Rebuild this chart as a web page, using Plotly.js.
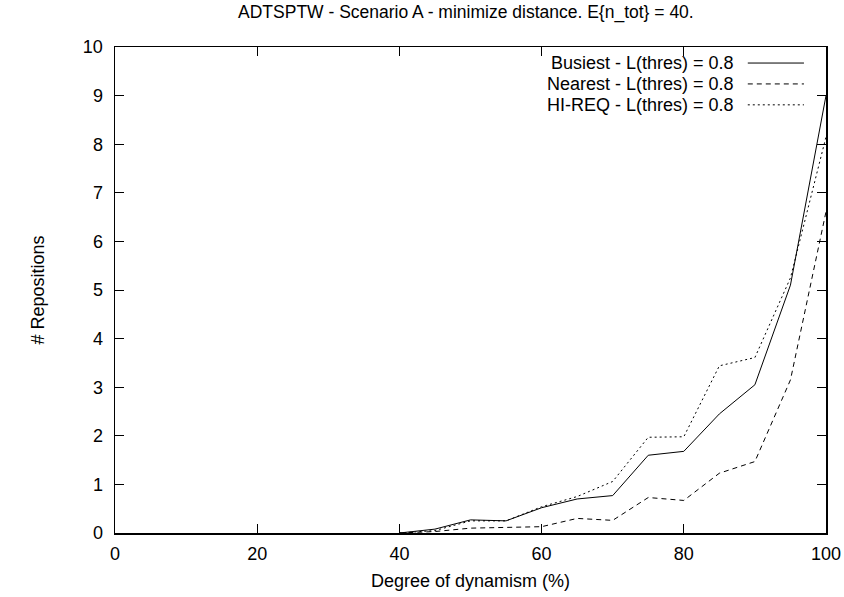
<!DOCTYPE html>
<html>
<head>
<meta charset="utf-8">
<script src="https://cdn.plot.ly/plotly-3.0.1.min.js"></script>
<style>html,body{margin:0;padding:0;background:#fff;}#chart{width:844px;height:597px;}</style>
</head>
<body>
<div id="chart"></div>
<script>
const xValues = [40, 45, 50, 55, 60, 65, 70, 75, 80, 85, 90, 95, 100];
const busiest = [0, 0.08, 0.27, 0.25, 0.52, 0.70, 0.77, 1.60, 1.68, 2.45, 3.05, 5.10, 9.00];
const nearest = [0, 0.03, 0.10, 0.12, 0.13, 0.30, 0.26, 0.73, 0.67, 1.23, 1.47, 3.15, 6.61];
const hireq   = [0, 0.05, 0.25, 0.25, 0.54, 0.75, 1.06, 1.97, 1.98, 3.44, 3.61, 5.25, 8.15];
const seriesNames = ['Busiest - L(thres) = 0.8', 'Nearest - L(thres) = 0.8', 'HI-REQ - L(thres) = 0.8'];
const xTicks = [0, 20, 40, 60, 80, 100];
const yTicks = [0, 1, 2, 3, 4, 5, 6, 7, 8, 9, 10];

const dashes = ['solid', '5px,4px', '2px,3px'];
const seriesData = [busiest, nearest, hireq];
const font = 'Liberation Sans, Arial, sans-serif';

const traces = seriesData.map((ys, i) => ({
  x: xValues, y: ys, type: 'scatter', mode: 'lines', name: seriesNames[i],
  line: {color: '#000', width: 1, dash: dashes[i]}, showlegend: false
}));

const legY = [0.967, 0.924, 0.881];
const annotations = seriesNames.map((n, i) => ({
  xref: 'paper', yref: 'paper', x: 0.872, y: legY[i], xanchor: 'right', yanchor: 'middle',
  text: n, showarrow: false, borderpad: 0, font: {family: font, size: 18, color: '#000'}
}));
const shapes = seriesNames.map((n, i) => ({
  type: 'line', xref: 'paper', yref: 'paper', x0: 0.890, x1: 0.969, y0: legY[i], y1: legY[i],
  line: {color: '#000', width: 1, dash: dashes[i]}
}));

const axisCommon = {
  showline: true, linecolor: '#000', linewidth: 1.5, mirror: 'ticks',
  ticks: 'inside', ticklen: 9, tickwidth: 1, tickcolor: '#000',
  showgrid: false, zeroline: false, tickfont: {family: font, size: 18, color: '#000'}
};

const layout = {
  width: 844, height: 597,
  paper_bgcolor: '#fff', plot_bgcolor: '#fff',
  margin: {l: 115, r: 18, t: 47, b: 64},
  title: {text: 'ADTSPTW - Scenario A - minimize distance. E{n_tot} = 40.', font: {family: font, size: 17.5, color: '#000'}, x: 0.552, xanchor: 'center', y: 0.98, yanchor: 'middle'},
  xaxis: Object.assign({}, axisCommon, {range: [0, 100], tickvals: xTicks, ticktext: xTicks.map(String),
    ticklabelstandoff: 4,
    title: {text: 'Degree of dynamism (%)', font: {family: font, size: 18, color: '#000'}, standoff: 11}}),
  yaxis: Object.assign({}, axisCommon, {range: [0, 10], tickvals: yTicks, ticktext: yTicks.map(String),
    ticklabelstandoff: 7,
    title: {text: '# Repositions', font: {family: font, size: 18, color: '#000'}, standoff: 33}}),
  annotations: annotations, shapes: shapes, showlegend: false
};

Plotly.newPlot('chart', traces, layout, {staticPlot: true, displayModeBar: false});
</script>
</body>
</html>
